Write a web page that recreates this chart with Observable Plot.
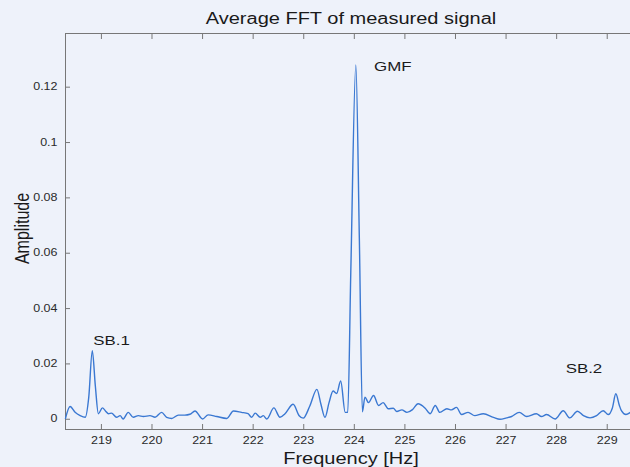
<!DOCTYPE html>
<html><head><meta charset="utf-8">
<script src="https://cdn.jsdelivr.net/npm/d3@7"></script>
<script src="https://cdn.jsdelivr.net/npm/@observablehq/plot@0.6"></script>
<style>
html,body{margin:0;padding:0;background:#eef2fa;}
#chart{width:630px;height:467px;overflow:hidden;}
</style></head><body><div id="chart"></div>
<script>
const freq = [218.29,218.38,218.48,218.58,218.68,218.75,218.82,218.88,218.94,219.02,219.08,219.14,219.2,219.3,219.37,219.43,219.53,219.63,219.73,219.83,219.96,220.06,220.19,220.29,220.39,220.52,220.65,220.75,220.85,221.0,221.11,221.28,221.48,221.61,221.77,221.9,221.97,222.04,222.14,222.2,222.27,222.41,222.53,222.63,222.79,222.91,222.99,223.12,223.26,223.34,223.42,223.5,223.58,223.65,223.73,223.82,223.87,223.93,224.03,224.1,224.16,224.21,224.28,224.38,224.48,224.57,224.67,224.77,224.84,224.94,225.04,225.15,225.26,225.4,225.5,225.6,225.69,225.83,225.92,226.02,226.12,226.25,226.38,226.55,226.75,226.88,227.01,227.11,227.26,227.41,227.6,227.7,227.8,227.97,228.13,228.26,228.41,228.53,228.66,228.79,228.92,229.02,229.1,229.17,229.24,229.28,229.37,229.46];
const amp = [0.0003,0.0046,0.0025,0.0013,0.0007,0.008,0.0248,0.012,0.002,0.0041,0.003,0.002,0.0022,0.0007,0.0013,0.0001,0.0025,0.0007,0.0013,0.001,0.0013,0.0007,0.0025,0.0007,0.0003,0.0015,0.0015,0.0018,0.003,0.0001,0.0016,0.001,0.0003,0.003,0.0025,0.002,0.0007,0.0022,0.0007,0.0013,0.0001,0.0041,0.0007,0.002,0.0054,0.0013,0.0004,0.0048,0.0108,0.0054,0.0007,0.006,0.0102,0.0093,0.0138,0.0025,0.0025,0.053,0.128,0.0646,0.0027,0.008,0.006,0.0086,0.005,0.006,0.0038,0.004,0.0028,0.0034,0.0025,0.0035,0.0056,0.004,0.002,0.005,0.0025,0.0038,0.0034,0.0043,0.0017,0.0025,0.0013,0.002,0.0007,0.0,0.0005,0.001,0.0025,0.001,0.002,0.001,0.0017,0.0001,0.0031,0.0005,0.0029,0.0013,0.0005,0.0013,0.0031,0.0017,0.004,0.0092,0.005,0.0031,0.0017,0.0025];
const xTicks = [219,220,221,222,223,224,225,226,227,228,229];
const yTicks = [0,0.02,0.04,0.06,0.08,0.1,0.12];
const xDomain = [218.29, 229.46];
const yDomain = [-0.0037, 0.1394];
const titleText = "Average FFT of measured signal";
const xLabel = "Frequency [Hz]";
const yLabel = "Amplitude";
const noteLabels = ["SB.1", "GMF", "SB.2"];
const noteFreq = [219.2, 224.76, 228.54];
const noteAmp = [0.0285, 0.1275, 0.0183];

const data = freq.map((f, i) => ({f, a: amp[i]}));
const notes = noteLabels.map((t, i) => ({t, f: noteFreq[i], a: noteAmp[i]}));
const font = "'Liberation Sans', Arial, Helvetica, sans-serif";
const frameColor = "#777";

const chart = Plot.plot({
  width: 630, height: 467,
  marginLeft: 65, marginRight: 0, marginTop: 33, marginBottom: 38,
  style: {background: "#eef2fa", fontFamily: font, color: "#2a2a2a"},
  x: {domain: xDomain},
  y: {domain: yDomain},
  marks: [
    Plot.ruleY([yDomain[1]], {stroke: frameColor}),
    Plot.ruleY([yDomain[0]], {stroke: frameColor}),
    Plot.ruleX([xDomain[0]], {stroke: frameColor}),
    Plot.axisX({ticks: xTicks, tickSize: -5, tickPadding: 12, tickFormat: d => String(d), fontSize: 10, label: null, stroke: frameColor, fill: "#2a2a2a"}),
    Plot.axisX({anchor: "top", ticks: xTicks, tickSize: -5, tickFormat: () => "", label: null, stroke: frameColor}),
    Plot.axisY({ticks: yTicks, tickSize: -5, tickPadding: 13, tickFormat: d => String(d), fontSize: 10, label: null, stroke: frameColor, fill: "#2a2a2a"}),
    Plot.line(data, {x: "f", y: "a", stroke: "#3a78d2", strokeWidth: 1.4, curve: "monotone-x"}),
    Plot.text(notes, {x: "f", y: "a", text: "t", fontSize: 13.5, fill: "#1a1a1a"}),
    Plot.text([titleText], {frameAnchor: "top", lineAnchor: "middle", textAnchor: "middle", dy: -15, dx: 3, fontSize: 16, fill: "#1a1a1a"}),
    Plot.text([xLabel], {frameAnchor: "bottom", lineAnchor: "middle", textAnchor: "middle", dy: 29, dx: 3, fontSize: 16, fill: "#1a1a1a"}),
    Plot.text([yLabel], {frameAnchor: "left", lineAnchor: "middle", textAnchor: "middle", dx: -43, dy: -3, rotate: -90, fontSize: 16, fill: "#1a1a1a"})
  ]
});

// the reference figure's text is horizontally stretched
const S = 1.25;
d3.select(chart).selectAll("text").each(function () {
  const t = this.getAttribute("transform");
  if (t == null) {
    const x = parseFloat(this.getAttribute("x") || 0);
    this.setAttribute("x", x / S);
    this.setAttribute("transform", `scale(${S},1)`);
  } else if (t.includes("rotate(")) {
    this.setAttribute("transform", t.replace("rotate(", `scale(${S},1) rotate(`));
  } else {
    this.setAttribute("transform", t + ` scale(${S},1)`);
  }
});
document.getElementById("chart").appendChild(chart);
</script>
</body></html>
